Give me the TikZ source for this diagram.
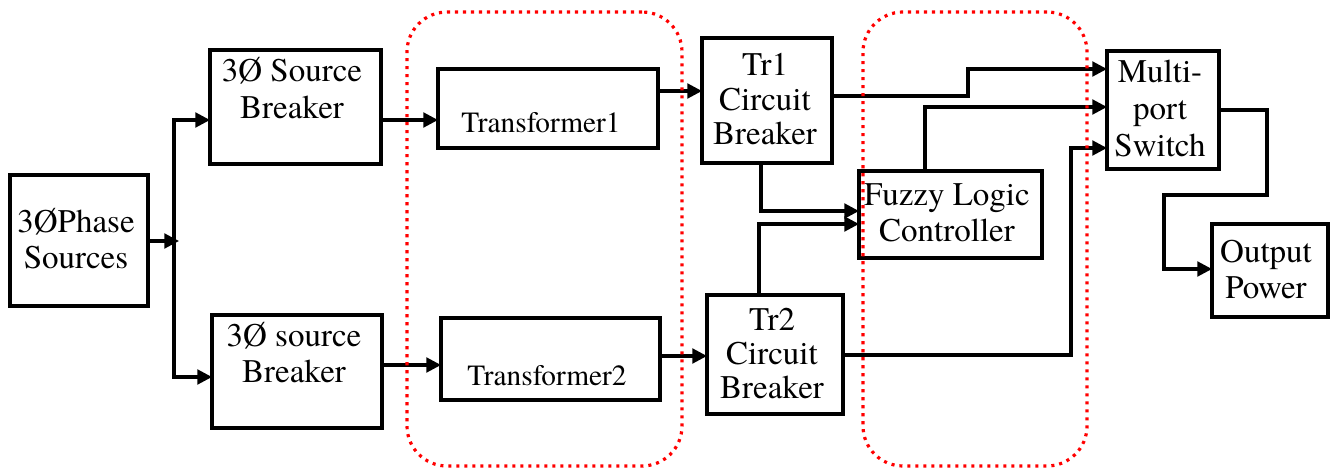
\documentclass[tikz,border=0pt]{standalone}
\usepackage{fontspec}
\setmainfont{texgyretermes}[Extension=.otf, UprightFont=*-regular, BoldFont=*-bold, ItalicFont=*-italic, BoldItalicFont=*-bolditalic]
\usetikzlibrary{arrows.meta,fit}
\begin{document}
\begin{tikzpicture}[x=0.75pt,y=-0.75pt,
  box/.style={draw=black, line width=2.4pt, inner sep=0pt, outer sep=0pt},
  lbl/.style={anchor=base, inner sep=0pt, outer sep=0pt, font=\fontsize{24.75}{27.5}\selectfont},
  tlbl/.style={anchor=base, inner sep=0pt, outer sep=0pt, font=\fontsize{22}{26}\selectfont},
  conn/.style={line width=2.3pt, line join=miter},
  arr/.style={conn, -{Triangle[length=11pt,width=11pt]}},
  grp/.style={draw=red, line width=2.4pt, dash pattern=on 2.3pt off 3.7pt, rounded corners=30pt, inner sep=0pt}]
\useasboundingbox (0,0) rectangle (1338,474);

% boxes
\node[box, fit={(10,175) (148,306)}] (PS) {};
\node[box, fit={(210,50) (381,164)}] (SB1) {};
\node[box, fit={(212,315) (382,428)}] (SB2) {};
\node[box, fit={(438,69) (658,148)}] (T1) {};
\node[box, fit={(441,318) (660,400)}] (T2) {};
\node[box, fit={(702,38) (832,163)}] (Tr1) {};
\node[box, fit={(707,295) (843,414)}] (Tr2) {};
\node[box, fit={(859,171) (1042,258)}] (FLC) {};
\node[box, fit={(1107,51) (1219,169)}] (MPS) {};
\node[box, fit={(1212,224) (1328,317)}] (OP) {};

% labels
\node[lbl] (PSt) at (76,232) {\begin{tabular}[t]{@{}c@{}}3ØPhase\\Sources\end{tabular}};
\node[lbl] (SB1t) at (292,82) {\begin{tabular}[t]{@{}c@{}}3Ø Source\\Breaker\end{tabular}};
\node[lbl] (SB2t) at (294,346) {\begin{tabular}[t]{@{}c@{}}3Ø source\\Breaker\end{tabular}};
\node[tlbl] (T1t) at (541,133) {Transformer1};
\node[tlbl] (T2t) at (547,385) {Transformer2};
\node[lbl] (Tr1t) at (765,76) {\def\arraystretch{0.93}\begin{tabular}[t]{@{}c@{}}Tr1\\Circuit\\Breaker\end{tabular}};
\node[lbl] (Tr2t) at (772,330) {\def\arraystretch{0.93}\begin{tabular}[t]{@{}c@{}}Tr2\\Circuit\\Breaker\end{tabular}};
\node[lbl] (FLCt) at (947,205) {\begin{tabular}[t]{@{}c@{}}Fuzzy Logic\\Controller\end{tabular}};
\node[lbl] (MPSt) at (1160,83) {\begin{tabular}[t]{@{}c@{}}Multi-\\port\\Switch\end{tabular}};
\node[lbl] (OPt) at (1266,262) {\begin{tabular}[t]{@{}c@{}}Output\\Power\end{tabular}};

% connectors
\coordinate (busT) at (174,120);
\coordinate (busB) at (174,377);
\coordinate (busM) at (179,241);
\draw[arr] (PS.east |- busM) -- (busM);
\draw[arr] (busB) -- (busT) -- (busT -| SB1.west);
\draw[arr] (busT) -- (busB) -- (busB -| SB2.west);
\draw[arr] (SB1.east |- busT) -- (T1.west |- busT);
\draw[arr] (SB2.east |- 0,365) -- (T2.west |- 0,365);
\draw[arr] (T1.east |- 0,91) -- (Tr1.west |- 0,91);
\draw[arr] (T2.east |- 0,356) -- (Tr2.west |- 0,356);
\draw[arr] (Tr1.east |- 0,96) -- (968,96) -- (968,69) -- (MPS.west |- 0,69);
\draw[arr] (FLC.north -| 925,0) -- (925,107) -- (MPS.west |- 0,107);
\draw[arr] (Tr2.east |- 0,355) -- (1071,355) -- (1071,148) -- (MPS.west |- 0,148);
\draw[arr] (Tr1.south -| 761,0) -- (761,211) -- (FLC.west |- 0,211);
\draw[arr] (Tr2.north -| 759,0) -- (759,224) -- (FLC.west |- 0,224);
\draw[arr] (MPS.east |- 0,110) -- (1267,110) -- (1267,195) -- (1164,195) -- (1164,269) -- (OP.west |- 0,269);

% groups
\node[grp, fit={(407,12) (682,466)}] (G1) {};
\node[grp, fit={(863,12) (1087,466)}] (G2) {};
\end{tikzpicture}
\end{document}
